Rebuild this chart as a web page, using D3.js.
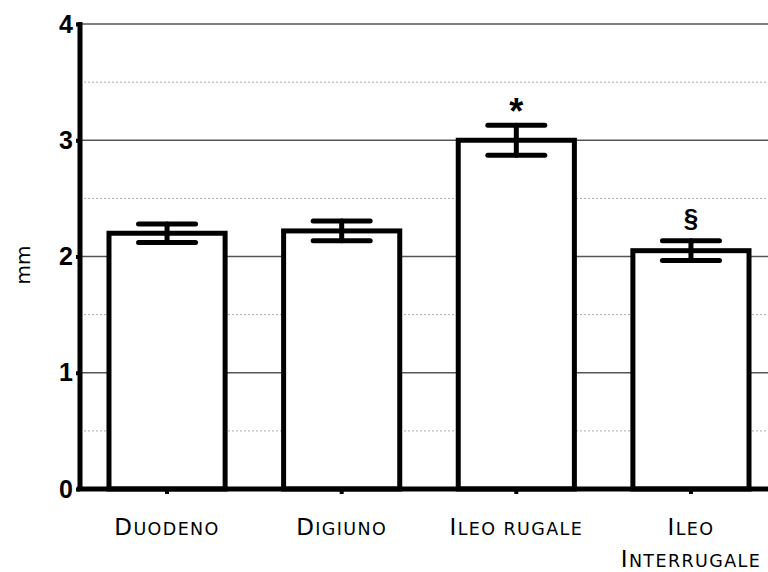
<!DOCTYPE html>
<html>
<head>
    <meta charset="utf-8">
    <title>Bar chart mm</title>
    <script src="https://d3js.org/d3.v7.min.js"></script>
    <style>
        body { margin: 0; background: #fff; }
        svg { display: block; }
    </style>
</head>
<body>
    <div id="chart"></div>

    <script>
        // Data for the chart
        var categories = ["Duodeno", "Digiuno", "Ileo rugale", "Ileo|Interrugale"];
        var values = [2.20, 2.22, 3.00, 2.05];
        var errors = [0.08, 0.085, 0.13, 0.085];
        var marks = ["", "", "*", "§"];
        var yTicks = [0, 1, 2, 3, 4];
        var yGrid = [0.5, 1, 1.5, 2, 2.5, 3, 3.5, 4];

        var W = 768, H = 572;
        var m = { left: 80, top: 24, bottom: 489, right: 778 };

        var svg = d3.select("#chart")
            .append("svg")
            .attr("width", W)
            .attr("height", H);

        var y = d3.scaleLinear().domain([0, 4]).range([m.bottom, m.top]);

        var x = d3.scaleBand()
            .domain(categories)
            .range([m.left, m.right])
            .paddingInner(0.335)
            .paddingOuter(0.166);

        // Gridlines: solid on integers, dotted on halves
        svg.selectAll(".grid")
            .data(yGrid)
            .enter()
            .append("line")
            .attr("x1", m.left)
            .attr("x2", W)
            .attr("y1", function(d) { return y(d); })
            .attr("y2", function(d) { return y(d); })
            .attr("stroke", function(d) { return d % 1 === 0 ? "#555" : "#aaa"; })
            .attr("stroke-width", function(d) { return d % 1 === 0 ? 1.6 : 1; })
            .attr("stroke-dasharray", function(d) { return d % 1 === 0 ? null : "2,2"; });

        // Bars
        svg.selectAll(".bar")
            .data(categories)
            .enter()
            .append("rect")
            .attr("x", function(d) { return x(d); })
            .attr("y", function(d, i) { return y(values[i]); })
            .attr("width", x.bandwidth())
            .attr("height", function(d, i) { return y(0) - y(values[i]); })
            .attr("fill", "#fff")
            .attr("stroke", "#000")
            .attr("stroke-width", 5);

        // Error bars
        var cap = 57;
        var eb = svg.selectAll(".err")
            .data(categories)
            .enter()
            .append("g")
            .attr("stroke", "#000")
            .attr("stroke-width", 5)
            .attr("stroke-linecap", "round");
        eb.append("line")
            .attr("x1", function(d) { return x(d) + x.bandwidth() / 2; })
            .attr("x2", function(d) { return x(d) + x.bandwidth() / 2; })
            .attr("y1", function(d, i) { return y(values[i] + errors[i]); })
            .attr("y2", function(d, i) { return y(values[i] - errors[i]); });
        [1, -1].forEach(function(s) {
            eb.append("line")
                .attr("x1", function(d) { return x(d) + x.bandwidth() / 2 - cap / 2; })
                .attr("x2", function(d) { return x(d) + x.bandwidth() / 2 + cap / 2; })
                .attr("y1", function(d, i) { return y(values[i] + s * errors[i]); })
                .attr("y2", function(d, i) { return y(values[i] + s * errors[i]); });
        });

        // Significance marks
        svg.selectAll(".mark")
            .data(categories)
            .enter()
            .append("text")
            .attr("x", function(d) { return x(d) + x.bandwidth() / 2; })
            .attr("y", function(d, i) { return y(values[i] + errors[i]) + (i === 2 ? -1 : -14); })
            .attr("text-anchor", "middle")
            .style("font-family", "Liberation Sans, Arial, sans-serif")
            .style("font-weight", "bold")
            .style("font-size", function(d, i) { return i === 2 ? "36px" : "26px"; })
            .text(function(d, i) { return marks[i]; });

        // Y axis
        var yAxis = svg.append("g")
            .attr("transform", "translate(" + m.left + ",0)")
            .call(d3.axisLeft(y).tickValues(yTicks).tickSize(4).tickPadding(3).tickFormat(d3.format("d")));
        yAxis.select(".domain").remove();
        yAxis.selectAll(".tick line").attr("stroke", "#000").attr("stroke-width", 4);
        yAxis.selectAll(".tick text")
            .style("font-family", "Liberation Sans, Arial, sans-serif")
            .style("font-weight", "bold")
            .style("font-size", "25px")
            .attr("fill", "#000");
        svg.append("line")
            .attr("x1", m.left).attr("x2", m.left)
            .attr("y1", y(4) - 2).attr("y2", m.bottom + 2)
            .attr("stroke", "#000").attr("stroke-width", 5);

        // X axis
        svg.append("line")
            .attr("x1", m.left - 3).attr("x2", W)
            .attr("y1", m.bottom).attr("y2", m.bottom)
            .attr("stroke", "#000").attr("stroke-width", 5);
        svg.selectAll(".xtick")
            .data(categories)
            .enter()
            .append("line")
            .attr("x1", function(d) { return x(d) + x.bandwidth() / 2; })
            .attr("x2", function(d) { return x(d) + x.bandwidth() / 2; })
            .attr("y1", m.bottom)
            .attr("y2", m.bottom + 5)
            .attr("stroke", "#000").attr("stroke-width", 4);

        // X labels in small caps (big initial capitals, smaller uppercase rest)
        var big = 23, small = 17.5;
        var xl = svg.selectAll(".xlabel")
            .data(categories)
            .enter()
            .append("text")
            .attr("x", function(d) { return x(d) + x.bandwidth() / 2; })
            .attr("y", 535)
            .attr("text-anchor", "middle")
            .style("font-family", "DejaVu Sans, sans-serif")
            .style("letter-spacing", "1.4px")
            .attr("fill", "#000");
        xl.each(function(d) {
            var t = d3.select(this);
            var lines = d.split("|");
            lines.forEach(function(line, k) {
                var ln = t.append("tspan")
                    .attr("x", t.attr("x"))
                    .attr("dy", k === 0 ? 0 : 32);
                line.split(" ").forEach(function(word, w) {
                    var first = word.charAt(0);
                    var isCap = first === first.toUpperCase();
                    ln.append("tspan")
                        .style("font-size", (isCap ? big : small) + "px")
                        .text((w > 0 ? " " : "") + first.toUpperCase());
                    ln.append("tspan")
                        .style("font-size", small + "px")
                        .text(word.slice(1).toUpperCase());
                });
            });
        });

        // Y title
        svg.append("text")
            .attr("transform", "translate(30,265) rotate(-90)")
            .attr("text-anchor", "middle")
            .style("font-family", "DejaVu Sans, sans-serif")
            .style("font-size", "20px")
            .text("mm");
    </script>
</body>
</html>
